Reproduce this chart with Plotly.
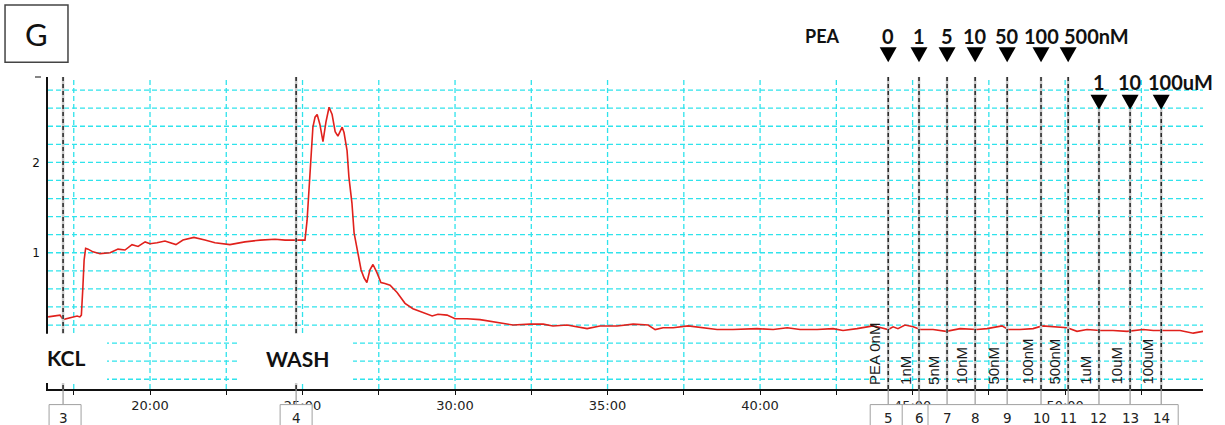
import plotly.graph_objects as go

# ---------------- data ----------------
time_min = [
    16.66, 16.89, 17.05, 17.15, 17.38, 17.61, 17.70, 17.75, 17.80, 17.84,
    17.89, 17.97, 18.13, 18.36, 18.69, 18.95, 19.18, 19.41, 19.61, 19.84,
    20.00, 20.23, 20.49, 20.85, 21.08, 21.44, 21.80, 22.13, 22.62, 23.11,
    23.61, 24.10, 24.43, 24.79, 25.08, 25.15, 25.21, 25.28, 25.34, 25.41,
    25.48, 25.57, 25.67, 25.77, 25.87, 25.97, 26.07, 26.16, 26.30, 26.36,
    26.46, 26.52, 26.62, 26.69, 26.79, 26.92, 27.02, 27.11, 27.21, 27.31,
    27.44, 27.57, 27.70, 27.87, 28.10, 28.36, 28.62, 28.95, 29.25, 29.44,
    29.74, 30.00, 30.39, 30.82, 31.38, 31.90, 32.46, 32.89, 33.21, 33.67,
    34.33, 34.75, 35.31, 35.84, 36.33, 36.56, 36.82, 37.15, 37.64, 38.13,
    38.59, 39.11, 39.57, 39.90, 40.43, 40.89, 41.31, 41.87, 42.39, 42.72,
    43.18, 43.70, 43.84, 44.20, 44.36, 44.52, 44.75, 45.02, 45.25, 45.67,
    46.10, 46.56, 47.11, 47.44, 47.93, 48.13, 48.52, 48.95, 49.25, 49.61,
    50.07, 50.39, 50.72, 51.15, 51.57, 52.03, 52.56, 52.89, 53.34, 53.77,
    54.20, 54.52,
]
signal = [
    0.29, 0.30, 0.31, 0.26, 0.28, 0.30, 0.29, 0.31, 0.62, 0.92,
    1.05, 1.04, 1.01, 0.99, 1.00, 1.04, 1.03, 1.09, 1.07, 1.12,
    1.10, 1.11, 1.13, 1.09, 1.14, 1.17, 1.14, 1.11, 1.09, 1.12,
    1.14, 1.15, 1.14, 1.14, 1.14, 1.36, 1.71, 2.09, 2.39, 2.50,
    2.53, 2.42, 2.23, 2.45, 2.61, 2.53, 2.34, 2.29, 2.39, 2.33,
    2.13, 1.84, 1.55, 1.22, 1.03, 0.81, 0.72, 0.67, 0.81, 0.87,
    0.78, 0.67, 0.66, 0.64, 0.56, 0.44, 0.38, 0.34, 0.30, 0.32,
    0.31, 0.27, 0.27, 0.26, 0.23, 0.20, 0.21, 0.21, 0.19, 0.20,
    0.16, 0.19, 0.19, 0.21, 0.20, 0.15, 0.17, 0.17, 0.19, 0.17,
    0.15, 0.15, 0.16, 0.16, 0.15, 0.17, 0.15, 0.15, 0.16, 0.14,
    0.16, 0.19, 0.18, 0.15, 0.18, 0.16, 0.20, 0.18, 0.15, 0.15,
    0.13, 0.16, 0.15, 0.16, 0.19, 0.15, 0.15, 0.16, 0.19, 0.18,
    0.17, 0.13, 0.15, 0.14, 0.14, 0.13, 0.15, 0.14, 0.14, 0.14,
    0.11, 0.13,
]

event_times = [17.15, 24.79, 44.20, 45.21, 46.13, 47.05, 48.10, 49.21,
               50.10, 51.11, 52.13, 53.15]
event_numbers = ["3", "4", "5", "6", "7", "8", "9", "10", "11", "12", "13", "14"]
comment_labels = ["", "", "PEA 0nM", "1nM", "5nM", "10nM", "50nM", "100nM",
                  "500nM", "1uM", "10uM", "100uM"]
dose_labels_nM = ["0", "1", "5", "10", "50", "100", "500nM"]   # events 5-11
dose_labels_uM = ["1", "10", "100uM"]                         # events 12-14

x_tick_vals = [17.5, 20, 22.5, 25, 27.5, 30, 32.5, 35, 37.5, 40, 42.5, 45,
               47.5, 50, 52.5]
x_tick_text = ["", "20:00", "", "25:00", "", "30:00", "", "35:00", "",
               "40:00", "", "45:00", "", "50:00", ""]
y_grid_vals = [-0.4, -0.2, 0.0, 0.2, 0.4, 0.6, 0.8, 1.0, 1.2, 1.4, 1.6,
               1.8, 2.0, 2.2, 2.4, 2.6, 2.8]
y_tick_vals = [1, 2]
y_tick_text = ["1", "2"]

# ---------------- figure ----------------
CYAN = "#2FE3EC"
RED = "#E0211C"
TRIANGLE = "M-8.5,7.5L8.5,7.5L0,-7.5Z"   # downward arrow glyph, pixel units

nm_times = event_times[2:9]
um_times = event_times[9:]

fig = go.Figure()
fig.add_trace(go.Scatter(x=time_min, y=signal, mode="lines",
                         line=dict(color=RED, width=1.6),
                         hoverinfo="skip"))

shapes = []
annotations = []

# cyan dashed grid (drawn as shapes under the data)
for v in y_grid_vals:
    shapes.append(dict(type="line", xref="paper", yref="y", x0=0, x1=1,
                       y0=v, y1=v, layer="below",
                       line=dict(color=CYAN, width=1.3, dash="5px,3px")))
for t in x_tick_vals:
    shapes.append(dict(type="line", xref="x", yref="paper", x0=t, x1=t,
                       y0=0, y1=1, layer="below",
                       line=dict(color=CYAN, width=1.3, dash="5px,3px")))

# event marker lines (gray underlay + black dashes)
for i, t in enumerate(event_times):
    top = 0.896 if i >= 9 else 1.0
    shapes.append(dict(type="line", xref="x", yref="paper", x0=t, x1=t,
                       y0=0, y1=top, layer="above",
                       line=dict(color="#C8C8C8", width=2.5)))
    shapes.append(dict(type="line", xref="x", yref="paper", x0=t, x1=t,
                       y0=0, y1=top, layer="above",
                       line=dict(color="#1A1A1A", width=1.4, dash="4px,3px")))
    # connector down to the comment number boxes
    shapes.append(dict(type="line", xref="x", yref="paper", x0=t, x1=t,
                       y0=0, y1=-0.05, layer="above",
                       line=dict(color="#9A9A9A", width=1.2)))

# dose arrow triangles
for times, row_y in [(nm_times, 1.0712), (um_times, 0.919)]:
    for t in times:
        shapes.append(dict(type="path", xref="x", yref="paper",
                           xsizemode="pixel", ysizemode="pixel",
                           xanchor=t, yanchor=row_y, path=TRIANGLE,
                           layer="above", fillcolor="black",
                           line=dict(width=0)))

# comment number boxes
def box(anchor, px0, px1):
    shapes.append(dict(type="rect", xref="x", yref="paper",
                       xsizemode="pixel", xanchor=anchor, x0=px0, x1=px1,
                       y0=-0.05, y1=-0.2, layer="above",
                       fillcolor="white", line=dict(color="#A0A0A0", width=1)))

box(event_times[0], -14, 18)
box(event_times[1], -16, 16)
box(event_times[2], -18, 290)
for anchor, off in [(event_times[2], 14), (event_times[3], 9)]:
    shapes.append(dict(type="line", xref="x", yref="paper",
                       xsizemode="pixel", xanchor=anchor, x0=off, x1=off,
                       y0=-0.05, y1=-0.2, layer="above",
                       line=dict(color="#A0A0A0", width=1)))

for t, n in zip(event_times, event_numbers):
    annotations.append(dict(x=t, y=-0.092, xref="x", yref="paper", text=n,
                            showarrow=False, xanchor="center",
                            yanchor="middle",
                            font=dict(family="DejaVu Sans", size=13.5,
                                      color="#222")))

# rotated comment labels
for t, lab in zip(event_times, comment_labels):
    if not lab:
        continue
    annotations.append(dict(x=t, y=0.01, xref="x", yref="paper", text=lab,
                            showarrow=False, textangle=-90, xanchor="right",
                            yanchor="bottom", xshift=-4, borderpad=0,
                            font=dict(family="Liberation Sans", size=15,
                                      color="#1A1A1A")))

# white boxes for KCL / WASH
for x0, x1 in [(-0.0069, 0.0511), (0.1662, 0.2641)]:
    shapes.append(dict(type="rect", xref="paper", yref="paper", x0=x0, x1=x1,
                       y0=0.019, y1=0.177, layer="above", fillcolor="white",
                       line=dict(width=0)))
annotations.append(dict(x=-0.003, y=0.101, xref="paper", yref="paper",
                        text="KCL", showarrow=False, xanchor="left",
                        yanchor="middle",
                        font=dict(family="Lato", size=21, color="#111",
                                  weight="bold")))
annotations.append(dict(x=0.2156, y=0.098, xref="paper", yref="paper",
                        text="WASH", showarrow=False, xanchor="center",
                        yanchor="middle",
                        font=dict(family="Lato", size=21, color="#111",
                                  weight="bold")))

# dose labels at top
bold = dict(family="Lato", size=20, color="#111", weight="bold")
annotations.append(dict(x=event_times[2], y=1.13, xref="x", yref="paper",
                        text="PEA", showarrow=False, xanchor="center",
                        yanchor="middle", xshift=-66,
                        font=dict(family="Lato", size=18, color="#111",
                                  weight="bold")))
for t, lab in zip(nm_times, dose_labels_nM):
    is_unit = not lab.isdigit()
    annotations.append(dict(x=t, y=1.13, xref="x", yref="paper", text=lab,
                            showarrow=False,
                            xanchor="left" if is_unit else "center",
                            xshift=-6 if is_unit else 0,
                            yanchor="middle", font=bold))
for t, lab in zip(um_times, dose_labels_uM):
    is_unit = not lab.isdigit()
    annotations.append(dict(x=t, y=0.984, xref="x", yref="paper", text=lab,
                            showarrow=False,
                            xanchor="left" if is_unit else "center",
                            xshift=-15 if is_unit else 0,
                            yanchor="middle", font=bold))

# panel letter box
shapes.append(dict(type="rect", xref="paper", yref="paper", x0=-0.0372,
                   x1=0.0173, y0=1.0475, y1=1.231, layer="above",
                   fillcolor="white", line=dict(color="#444", width=1.5)))
annotations.append(dict(x=-0.0099, y=1.139, xref="paper", yref="paper",
                        text="G", showarrow=False, xanchor="center",
                        yanchor="middle",
                        font=dict(family="Lato", size=31, color="#111")))

# small mark at top of y axis
shapes.append(dict(type="line", xref="paper", yref="paper", x0=-0.0113,
                   x1=-0.0061, y0=1.0, y1=1.0, layer="above",
                   line=dict(color="#333", width=1.2)))

fig.update_layout(
    width=1225, height=425,
    margin=dict(l=48, r=22, t=77, b=32),
    plot_bgcolor="white", paper_bgcolor="white",
    showlegend=False,
    shapes=shapes, annotations=annotations,
    xaxis=dict(range=[16.656, 54.52], tickvals=x_tick_vals,
               ticktext=x_tick_text, showgrid=False, zeroline=False,
               showline=True, linecolor="#111", linewidth=1.5,
               ticks="outside", ticklen=4, tickcolor="#111",
               tickfont=dict(family="DejaVu Sans", size=13, color="#222")),
    yaxis=dict(range=[-0.508, 2.945], tickvals=y_tick_vals,
               ticktext=y_tick_text, showgrid=False, zeroline=False,
               showline=True, linecolor="#111", linewidth=1.5,
               ticks="", ticklabelstandoff=4,
               tickfont=dict(family="DejaVu Sans", size=12, color="#111")),
)

fig.write_html("out.html",
               config={"displayModeBar": False},
               post_script="document.body.style.margin='0';"
                           "document.body.style.overflow='hidden';")
